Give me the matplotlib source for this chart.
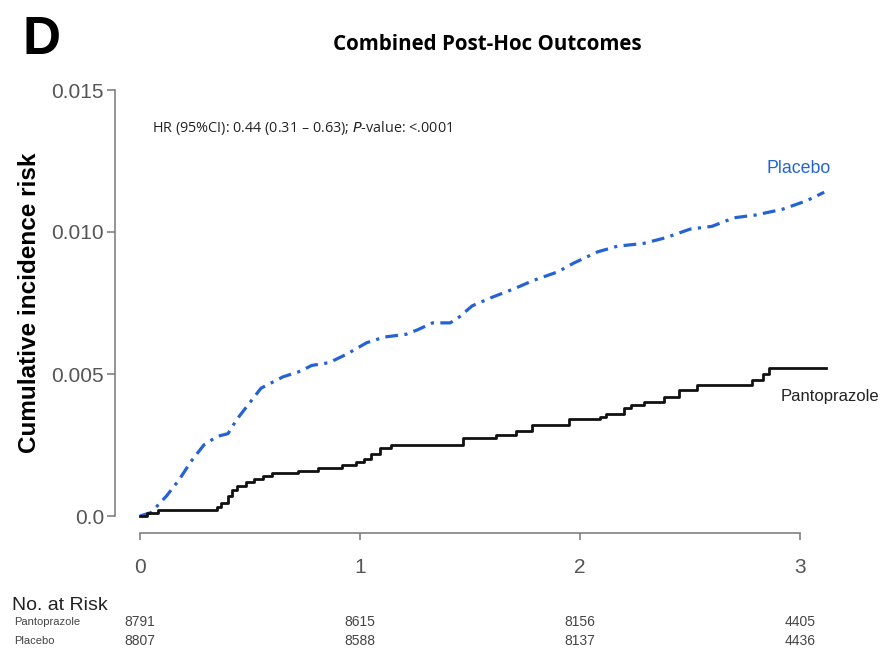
import numpy as np
import matplotlib.pyplot as plt

# Pantoprazole cumulative incidence (step function)
panto_t = [0, 0.03, 0.08, 0.35, 0.37, 0.40, 0.42, 0.44, 0.48, 0.52, 0.56, 0.60,
           0.72, 0.81, 0.92, 0.98, 1.02, 1.05, 1.09, 1.14, 1.47, 1.62, 1.71, 1.78,
           1.95, 2.09, 2.12, 2.20, 2.23, 2.29, 2.38, 2.45, 2.53, 2.78, 2.83, 2.86, 3.12]
panto_y = [0, 0.0001, 0.0002, 0.0003, 0.00045, 0.0007, 0.0009, 0.00105, 0.0012, 0.0013,
           0.0014, 0.0015, 0.0016, 0.0017, 0.0018, 0.0019, 0.0020, 0.0022, 0.0024, 0.0025,
           0.00275, 0.00285, 0.0030, 0.0032, 0.0034, 0.0035, 0.0036, 0.0038, 0.0039,
           0.0040, 0.0042, 0.00444, 0.0046, 0.0048, 0.0050, 0.0052, 0.0052]

# Placebo cumulative incidence
plac_t = [0, 0.05, 0.12, 0.18, 0.23, 0.29, 0.35, 0.40, 0.44, 0.49, 0.55, 0.65, 0.73,
          0.78, 0.86, 0.94, 1.03, 1.11, 1.21, 1.26, 1.33, 1.41, 1.45, 1.51, 1.60, 1.70,
          1.79, 1.90, 1.97, 2.08, 2.17, 2.29, 2.39, 2.50, 2.60, 2.70, 2.80, 2.92, 3.03, 3.11]
plac_y = [0, 0.00012, 0.0007, 0.0013, 0.0019, 0.0025, 0.0028, 0.0029, 0.0034, 0.0039,
          0.0045, 0.0049, 0.0051, 0.0053, 0.0054, 0.0057, 0.0061, 0.0063, 0.0064, 0.00655,
          0.0068, 0.0068, 0.0070, 0.0074, 0.0077, 0.0080, 0.0083, 0.0086, 0.0089, 0.0093,
          0.0095, 0.0096, 0.0098, 0.0101, 0.0102, 0.0105, 0.0106, 0.0108, 0.0111, 0.0114]

yticks = [0, 0.005, 0.010, 0.015]
ytick_labels = ['0.0', '0.005', '0.010', '0.015']
xticks = [0, 1, 2, 3]

risk_times = [0, 1, 2, 3]
risk_panto = [8791, 8615, 8156, 4405]
risk_plac = [8807, 8588, 8137, 4436]

plt.rcParams['font.family'] = ['Liberation Sans', 'DejaVu Sans']

fig = plt.figure(figsize=(8.8, 6.48), dpi=100)
# axes spans the detached R-style spines: px x 115..860, y 90..533
ax = fig.add_axes([115 / 880, 1 - 533 / 648, 745 / 880, 443 / 648])
ax.set_xlim(-25 / 220, 720 / 220)
ax.set_ylim(-17 / 142 * 0.005, 0.015)

blue = '#2563d4'
ax.plot(plac_t, plac_y, color=blue, lw=2.3, linestyle=(0, (4, 2, 1, 2)),
        solid_capstyle='butt', dash_capstyle='butt', clip_on=False)
ax.plot(panto_t, panto_y, color='#111111', lw=2.0, drawstyle='steps-post', clip_on=False)

for side in ['top', 'right']:
    ax.spines[side].set_visible(False)
for side in ['left', 'bottom']:
    ax.spines[side].set_color('#777777')
    ax.spines[side].set_linewidth(1.1)
ax.spines['left'].set_bounds(0, 0.015)
ax.spines['bottom'].set_bounds(0, 3)

ax.set_yticks(yticks)
ax.set_yticklabels(ytick_labels)
ax.set_xticks(xticks)
ax.set_xticklabels([str(x) for x in xticks])
ax.tick_params(axis='y', length=6, width=1.1, color='#777777', labelsize=15,
               labelcolor='#555555', pad=2)
ax.tick_params(axis='x', length=5, width=1.1, color='#777777', labelsize=15,
               labelcolor='#555555', pad=13)

ax.set_ylabel('Cumulative incidence risk', fontsize=17.5, fontweight='bold')
ax.yaxis.set_label_coords(-74 / 745, (533 - 303) / 443)

fig.text(22 / 880, 1 - 40 / 648, 'D', fontsize=38, fontweight='bold', va='center', ha='left')
fig.text(487 / 880, 1 - 45 / 648, 'Combined Post-Hoc Outcomes', fontsize=14.8,
         fontweight='bold', family=['Open Sans', 'DejaVu Sans'], ha='center', va='center')
fig.text(152 / 880, 1 - 128 / 648,
         r'HR (95%CI): 0.44 (0.31 – 0.63); $\it{P}$-value: <.0001',
         fontsize=10.4, family=['Open Sans', 'DejaVu Sans'], ha='left', va='center',
         color='#222222')

ax.text(2.995, 0.01225, 'Placebo', color=blue, fontsize=12.8, ha='center', va='center')
ax.text(2.91, 0.0042, 'Pantoprazole', color='#222222', fontsize=12,
        ha='left', va='center', clip_on=False)

# risk table
fig.text(12 / 880, 1 - 605 / 648, 'No. at Risk', fontsize=14, color='#222222', va='center')
row_y = [622, 641]
for label, counts, py in zip(['Pantoprazole', 'Placebo'], [risk_panto, risk_plac], row_y):
    fig.text(14 / 880, 1 - py / 648, label, fontsize=8, color='#444444', va='center')
    for t, n in zip(risk_times, counts):
        xpx = 140 + t * 220
        fig.text(xpx / 880, 1 - py / 648, str(n), fontsize=10, color='#444444',
                 ha='center', va='center')

fig.savefig('out.png', dpi=100)
